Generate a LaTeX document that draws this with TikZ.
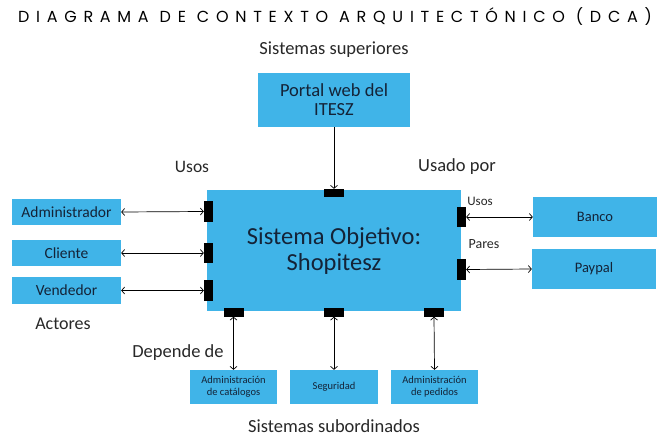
\documentclass[tikz,border=0pt]{standalone}
\usepackage{fontspec}
\setmainfont{Carlito}
\newfontfamily\titlefont[LetterSpace=42]{Poppins}
\usetikzlibrary{arrows.meta}
\definecolor{boxblue}{RGB}{64,180,232}
\definecolor{boxtxt}{RGB}{20,35,55}
\definecolor{lbltxt}{RGB}{40,40,40}
\begin{document}
\begin{tikzpicture}[x=1pt,y=-1pt,
  bx/.style={fill=boxblue,draw=none,inner sep=0pt,text=boxtxt,align=center},
  port/.style={fill=black,draw=none,inner sep=0pt},
  lbl/.style={inner sep=0pt,text=lbltxt},
  conn/.style={draw=black,line width=0.7pt,{Straight Barb[length=3pt,width=7pt]}-{Straight Barb[length=3pt,width=7pt]}},
  conn1/.style={draw=black,line width=0.7pt,-{Straight Barb[length=3pt,width=7pt]}}]
\useasboundingbox (0,0) rectangle (669,442);
\fill[white] (0,0) rectangle (669,442);
% title
\node[lbl,text=black,font=\titlefont\fontsize{16}{18}\selectfont] (title) at (335,17) {DIAGRAMA DE CONTEXTO ARQUITECTÓNICO (DCA)};
\node[lbl,font=\fontsize{18.5}{20}\selectfont] (sup) at (334,50) {Sistemas superiores};
% boxes
\node[bx,minimum width=152pt,minimum height=54pt,font=\fontsize{18.5}{19}\selectfont] (portal) at (334,100) {Portal web del\\ITESZ};
\node[bx,minimum width=254pt,minimum height=121pt,font=\fontsize{24.5}{26}\selectfont] (main) at (334,250.5) {Sistema Objetivo:\\Shopitesz};
\node[bx,minimum width=109pt,minimum height=26pt,font=\fontsize{15.5}{16}\selectfont] (admin) at (66.5,212) {Administrador};
\node[bx,minimum width=109pt,minimum height=26pt,font=\fontsize{15.5}{16}\selectfont] (cliente) at (66.5,253) {Cliente};
\node[bx,minimum width=109pt,minimum height=27pt,font=\fontsize{15.5}{16}\selectfont] (vend) at (66.5,290.5) {Vendedor};
\node[bx,minimum width=124pt,minimum height=40pt,font=\fontsize{14.5}{16}\selectfont] (banco) at (595,217) {Banco};
\node[bx,minimum width=124pt,minimum height=40pt,font=\fontsize{14.5}{16}\selectfont] (paypal) at (594,269) {Paypal};
\node[bx,minimum width=87pt,minimum height=34pt,font=\fontsize{10.5}{12}\selectfont] (cat) at (233.5,387) {Administración\\de catálogos};
\node[bx,minimum width=88pt,minimum height=34pt,font=\fontsize{10.5}{12}\selectfont] (seg) at (334,387) {Seguridad};
\node[bx,minimum width=87pt,minimum height=34pt,font=\fontsize{10.5}{12}\selectfont] (ped) at (434.5,387) {Administración\\de pedidos};
% ports
\node[port,minimum width=20pt,minimum height=8pt] (ptop) at (334,193) {};
\node[port,minimum width=9pt,minimum height=21pt] (pl1) at (208.5,211.5) {};
\node[port,minimum width=9pt,minimum height=20pt] (pl2) at (208.5,253) {};
\node[port,minimum width=9pt,minimum height=21pt] (pl3) at (208.5,290.5) {};
\node[port,minimum width=9pt,minimum height=20pt] (pr1) at (461.5,217) {};
\node[port,minimum width=9pt,minimum height=21pt] (pr2) at (461.5,269.5) {};
\node[port,minimum width=20pt,minimum height=9pt] (pb1) at (233.5,312) {};
\node[port,minimum width=20pt,minimum height=9pt] (pb2) at (334,312) {};
\node[port,minimum width=20pt,minimum height=9pt] (pb3) at (434,312) {};
% labels
\node[lbl,font=\fontsize{17.5}{19}\selectfont] (usos) at (192,167) {Usos};
\node[lbl,font=\fontsize{18.5}{20}\selectfont] (usadopor) at (457,167) {Usado por};
\node[lbl,font=\fontsize{18}{20}\selectfont] (actores) at (63,324) {Actores};
\node[lbl,font=\fontsize{18.5}{20}\selectfont] (depende) at (178,353) {Depende de};
\node[lbl,font=\fontsize{18.5}{20}\selectfont] (sub) at (334,426) {Sistemas subordinados};
\node[lbl,font=\fontsize{13}{14}\selectfont] (usos2) at (480,201) {Usos};
\node[lbl,font=\fontsize{14}{15}\selectfont] (pares) at (484,244) {Pares};
% connectors
\draw[conn1] (portal.south) -- (ptop.north);
\draw[conn] (admin.east) -- (pl1.west);
\draw[conn] (cliente.east) -- (pl2.west);
\draw[conn] (vend.east) -- (pl3.west);
\draw[conn] (pr1.east) -- (banco.west);
\draw[conn] (pr2.east) -- (paypal.west);
\draw[conn] (pb1.south) -- (cat.north);
\draw[conn] (pb2.south) -- (seg.north);
\draw[conn] (pb3.south) -- (ped.north);
\end{tikzpicture}
\end{document}
